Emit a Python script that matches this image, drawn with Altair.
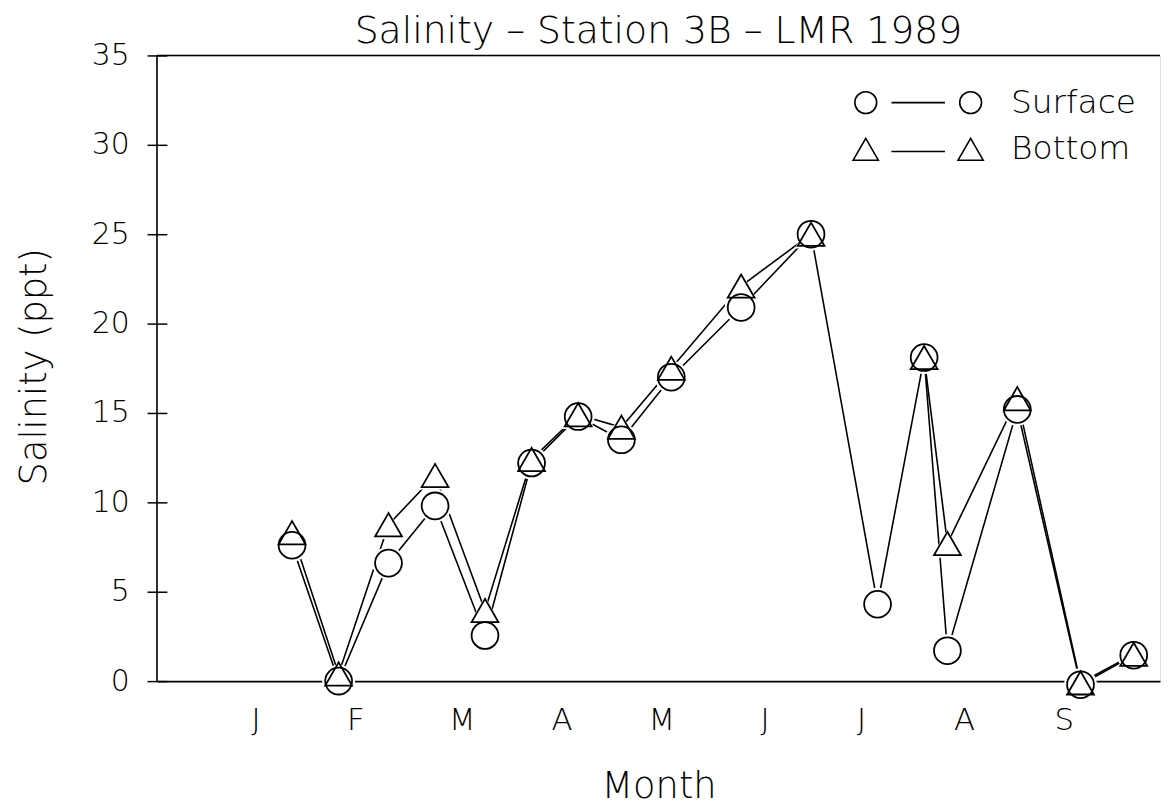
import altair as alt
import pandas as pd

# ---- data ----
days = [26, 40, 55, 69, 84, 98, 112, 125, 140, 161, 182, 202, 216, 223, 244, 263, 279]
surface = [7.6, 0.0, 6.6, 9.8, 2.55, 12.2, 14.8, 13.5, 17.0, 20.9, 25.0, 4.3, 18.1, 1.7, 15.2, -0.2, 1.45]
bottom = [8.3, 0.4, 8.75, 11.5, 3.95, 12.4, 14.9, 14.2, 17.5, 22.1, 25.0, None, 18.1, 7.7, 15.8, -0.1, 1.5]
series_names = ["Surface", "Bottom"]
month_ticks = [15, 45, 77, 107, 137, 168, 197, 228, 258]
month_labels = ["J", "F", "M", "A", "M", "J", "J", "A", "S"]
y_ticks = [0, 5, 10, 15, 20, 25, 30, 35]
title_text = "Salinity – Station 3B – LMR 1989"

X_MIN, X_MAX = -14.6, 286.9
Y_MIN, Y_MAX = 0, 35
W, H = 1010, 630

rows = []
for name, vals in zip(series_names, [surface, bottom]):
    seg = 0
    for d, v in zip(days, vals):
        if v is None:
            seg += 1
            continue
        rows.append({"day": d, "value": v, "series": name, "seg": f"{name}{seg}"})
df = pd.DataFrame(rows)

FONT = "DejaVu Sans"
FW = 200

label_expr = "[" + ",".join(f"'{m}'" for m in month_labels) + "][indexof([" + \
    ",".join(str(t) for t in month_ticks) + "], datum.value)]"

x_enc = alt.X(
    "day:Q",
    scale=alt.Scale(domain=[X_MIN, X_MAX], nice=False, zero=False),
    axis=alt.Axis(
        values=month_ticks, labelExpr=label_expr, ticks=False, tickSize=0,
        grid=False, domain=True, domainColor="black", domainWidth=1.6,
        labelPadding=25, labelFontSize=31, labelFont=FONT, labelFontWeight=FW,
        labelColor="black", labelAngle=0,
        titleFontSize=37, titleFont=FONT, titleFontWeight=FW, titleColor="black",
        titleY=117, titleBaseline="alphabetic",
    ),
    title="Month",
)
y_enc = alt.Y(
    "value:Q",
    scale=alt.Scale(domain=[Y_MIN, Y_MAX], nice=False, zero=False),
    axis=alt.Axis(
        values=y_ticks, grid=False, domain=False, offset=-10, tickSize=20,
        tickColor="black", tickWidth=1.5, labelPadding=18, labelFontSize=30,
        labelFont=FONT, labelFontWeight=FW, labelColor="black",
        titleFontSize=37, titleFont=FONT, titleFontWeight=FW, titleColor="black",
        titleX=-133, titleY=313, titleAngle=270, titleAlign="center",
        titleBaseline="middle",
    ),
    title="Salinity (ppt)",
)

base = alt.Chart(df)

lines = base.mark_line(color="black", strokeWidth=1.6).encode(
    x=x_enc, y=y_enc, detail="seg:N"
)

def markers(name, shape, size, **kw):
    return base.transform_filter(alt.datum.series == name).mark_point(
        shape=shape, size=size, **kw
    ).encode(x=x_enc, y=y_enc)

fills = [
    markers("Surface", "circle", 1100, filled=True, fill="white", strokeWidth=0, opacity=1),
    markers("Bottom", "triangle-up", 1100, filled=True, fill="white", strokeWidth=0, opacity=1),
]
outlines = [
    markers("Surface", "circle", 729, filled=False, color="black", strokeWidth=1.8, opacity=1),
    markers("Bottom", "triangle-up", 729, filled=False, color="black", strokeWidth=1.8, opacity=1),
]

frame_data = alt.Data(values=[{"k": 0}])
top_rule = alt.Chart(frame_data).mark_rule(color="black", strokeWidth=1.6).encode(
    y=alt.datum(Y_MAX)
)
left_rule = alt.Chart(frame_data).mark_rule(color="black", strokeWidth=1.6).encode(
    x=alt.datum(X_MIN)
)

title_mark = alt.Chart(frame_data).mark_text(
    font=FONT, fontSize=38, fontWeight=FW, color="black",
    align="center", baseline="alphabetic",
).encode(
    x=alt.value(W / 2), y=alt.value(-13), text=alt.value(title_text)
)

circle_path = ("M -3.8 0 A 1 1 0 1 1 -5.8 0 A 1 1 0 1 1 -3.8 0 "
               "M -2.45 0 L 2.45 0 "
               "M 5.8 0 A 1 1 0 1 1 3.8 0 A 1 1 0 1 1 5.8 0")
tri_path = ("M -4.8 -1 L -3.65 1 L -5.95 1 Z "
            "M -2.45 0.2 L 2.45 0.2 "
            "M 4.8 -1 L 5.95 1 L 3.65 1 Z")

legend_layer = base.transform_filter("false").mark_point(
    filled=False, color="black", strokeWidth=1.6
).encode(
    shape=alt.Shape(
        "series:N",
        scale=alt.Scale(domain=series_names, range=[circle_path, tri_path]),
        legend=alt.Legend(
            title=None, orient="none", legendX=750, legendY=31, padding=0,
            symbolSize=484, symbolStrokeWidth=1.6, symbolStrokeColor="black",
            symbolOpacity=1, labelFont=FONT, labelFontWeight=FW, labelFontSize=33,
            labelColor="black", labelOffset=77, rowPadding=13,
        ),
    )
)

chart = alt.layer(
    lines, *fills, *outlines, top_rule, left_rule, title_mark, legend_layer
).properties(
    width=W,
    height=H,
    padding={"left": 150, "top": 45, "right": 2, "bottom": 125},
    autosize=alt.AutoSizeParams(type="none"),
).configure_view(stroke=None).configure(background="white")

chart.save("out.html", embed_options={"renderer": "svg", "actions": False})
